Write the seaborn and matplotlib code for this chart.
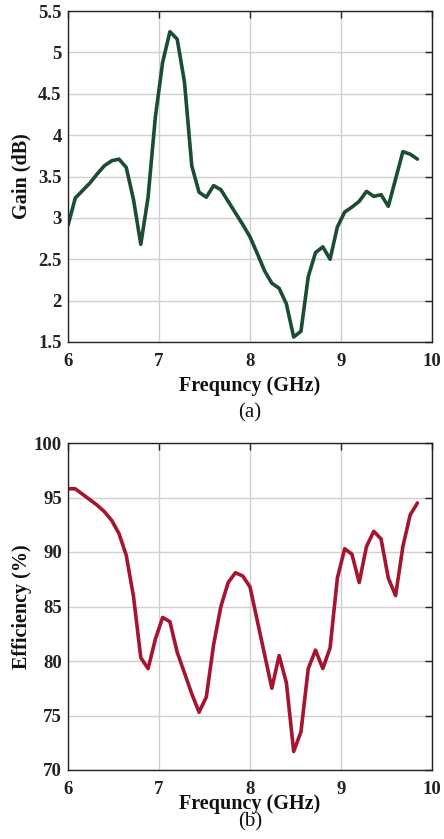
import numpy as np
import pandas as pd
import matplotlib
matplotlib.use("Agg")
import matplotlib.pyplot as plt
import seaborn as sns

freq = [6.00, 6.08, 6.16, 6.24, 6.32, 6.40, 6.48, 6.56, 6.64, 6.72,
        6.80, 6.88, 6.96, 7.04, 7.12, 7.20, 7.28, 7.36, 7.44, 7.52,
        7.60, 7.68, 7.76, 7.84, 7.92, 8.00, 8.08, 8.16, 8.24, 8.32,
        8.40, 8.48, 8.56, 8.64, 8.72, 8.80, 8.88, 8.96, 9.04, 9.12,
        9.20, 9.28, 9.36, 9.44, 9.52, 9.60, 9.68, 9.76, 9.84]

gain = [2.91, 3.24, 3.33, 3.42, 3.53, 3.63, 3.69, 3.71, 3.61, 3.22,
        2.68, 3.25, 4.22, 4.88, 5.25, 5.16, 4.64, 3.63, 3.31, 3.25,
        3.39, 3.34, 3.20, 3.06, 2.92, 2.77, 2.57, 2.36, 2.21, 2.15,
        1.96, 1.56, 1.63, 2.29, 2.58, 2.65, 2.50, 2.89, 3.07, 3.13,
        3.20, 3.32, 3.26, 3.28, 3.14, 3.47, 3.80, 3.77, 3.71]

efficiency = [95.8, 95.8, 95.3, 94.8, 94.3, 93.7, 92.9, 91.7, 89.7, 85.9,
              80.3, 79.3, 82.0, 84.0, 83.6, 80.8, 78.9, 77.0, 75.3, 76.7,
              81.5, 85.0, 87.2, 88.1, 87.8, 86.8, 83.7, 80.6, 77.5, 80.5,
              78.0, 71.7, 73.5, 79.3, 81.0, 79.3, 81.2, 87.6, 90.3, 89.8,
              87.2, 90.5, 91.9, 91.2, 87.6, 86.0, 90.5, 93.4, 94.5]

x_ticks = [6, 7, 8, 9, 10]
gain_ticks = [1.5, 2, 2.5, 3, 3.5, 4, 4.5, 5, 5.5]
gain_tick_labels = ["1.5", "2", "2.5", "3", "3.5", "4", "4.5", "5", "5.5"]
eff_ticks = [70, 75, 80, 85, 90, 95, 100]

sns.set_theme(style="white")
plt.rcParams['font.family'] = ['Liberation Serif', 'DejaVu Serif']
plt.rcParams['font.weight'] = 'bold'

df = pd.DataFrame({"freq": freq, "gain": gain, "eff": efficiency})

fig = plt.figure(figsize=(4.44, 8.39), dpi=100)
ax1 = fig.add_axes([68/444, 1-342/839, 364/444, 331/839])
ax2 = fig.add_axes([68/444, 1-770/839, 364/444, 327/839])

sns.lineplot(data=df, x="freq", y="gain", ax=ax1, color="#1b4d33", linewidth=2.6)
sns.lineplot(data=df, x="freq", y="eff", ax=ax2, color="#a5152f", linewidth=2.6)

def style(ax, yticks, ylim, ylabel, sub, xl_y, sub_y, yticklabels=None):
    ax.set_xlim(6, 10)
    ax.set_ylim(*ylim)
    ax.set_xticks(x_ticks)
    ax.set_yticks(yticks)
    if yticklabels is not None:
        ax.set_yticklabels(yticklabels)
    ax.grid(True, color="#d0d0d0", linewidth=1.0)
    ax.set_axisbelow(True)
    for s in ax.spines.values():
        s.set_color("#222222")
        s.set_linewidth(1.0)
        s.set_visible(True)
    ax.tick_params(direction="in", length=5, width=1, colors="#222222",
                   top=True, right=True, labelsize=13.5)
    ax.tick_params(axis="x", pad=8)
    ax.tick_params(axis="y", pad=4.5)
    for lab in ax.get_xticklabels() + ax.get_yticklabels():
        lab.set_fontweight("bold")
        lab.set_color("#222222")
    ax.set_xlabel("Frequncy (GHz)", fontsize=14.5, fontweight="bold", color="#111111")
    ax.xaxis.set_label_coords(0.5, xl_y)
    ax.set_ylabel(ylabel, fontsize=14.5, fontweight="bold", color="#111111")
    ax.yaxis.set_label_coords(-0.1, 0.5)
    ax.text(0.5, sub_y, sub, transform=ax.transAxes,
            ha="center", va="top", fontsize=15, fontweight="normal", color="#111111")

style(ax1, gain_ticks, (1.5, 5.5), "Gain (dB)", "(a)", -0.103, -0.184, gain_tick_labels)
style(ax2, eff_ticks, (70, 100), "Efficiency (%)", "(b)", -0.073, -0.128)

fig.savefig("out.png", dpi=100)
